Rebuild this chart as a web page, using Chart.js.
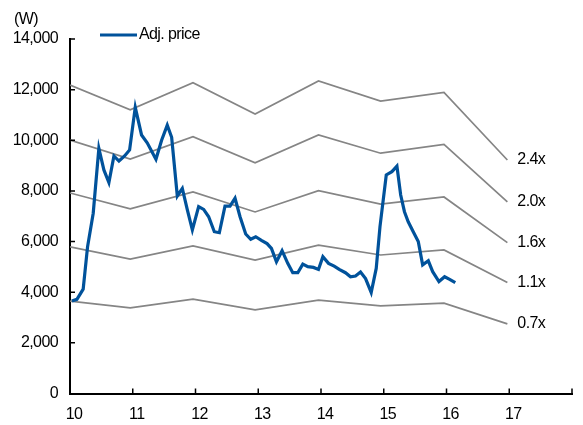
<!DOCTYPE html>
<html>
<head>
<meta charset="utf-8">
<script src="https://cdn.jsdelivr.net/npm/chart.js@4/dist/chart.umd.min.js"></script>
<style>
  html, body { margin: 0; padding: 0; background: #fff; }
  #wrap { width: 583px; height: 425px; position: relative; }
</style>
</head>
<body>
<div id="wrap"><canvas id="c" width="583" height="425"></canvas></div>
<script>
// ---- data ----
const unitLabel = '(W)';
const xTickLabels = ['10', '11', '12', '13', '14', '15', '16', '17'];
const bandYears = [10, 10.96, 11.96, 12.95, 13.96, 14.95, 15.96, 16.97];
const band24 = [12180, 11200, 12270, 11040, 12340, 11550, 11890, 9220];
const band20 = [10010, 9260, 10140, 9110, 10210, 9490, 9840, 7570];
const band16 = [7920, 7290, 7960, 7170, 8010, 7480, 7760, 5960];
const band11 = [5790, 5310, 5830, 5270, 5860, 5470, 5670, 4380];
const band07 = [3650, 3380, 3730, 3300, 3690, 3460, 3570, 2750];
const bandNames = ['2.4x', '2.0x', '1.6x', '1.1x', '0.7x'];
const priceName = 'Adj. price';
const priceX = [10.03, 10.11, 10.21, 10.28, 10.37, 10.46, 10.54, 10.62, 10.70, 10.78, 10.87, 10.95,
  11.04, 11.14, 11.23, 11.37, 11.46, 11.55, 11.62, 11.71, 11.79, 11.87, 11.95,
  12.05, 12.13, 12.21, 12.30, 12.38, 12.47, 12.55, 12.63, 12.71, 12.80, 12.88, 12.96,
  13.05, 13.14, 13.21, 13.29, 13.38, 13.47, 13.55, 13.63, 13.71, 13.79, 13.88, 13.96,
  14.03, 14.12, 14.21, 14.29, 14.39, 14.47, 14.55, 14.63, 14.71, 14.80, 14.88, 14.94,
  15.04, 15.13, 15.21, 15.27, 15.33, 15.39, 15.47, 15.55, 15.62, 15.71, 15.78, 15.88, 15.97,
  16.05, 16.14];
const priceY = [3650, 3720, 4120, 5800, 7120, 9680, 8830, 8330, 9380, 9180, 9380, 9620,
  11300, 10210, 9900, 9250, 10000, 10600, 10120, 7800, 8100, 7250, 6460,
  7380, 7270, 6980, 6390, 6350, 7400, 7400, 7710, 6980, 6300, 6090, 6190,
  6050, 5920, 5730, 5200, 5640, 5140, 4770, 4770, 5110, 5010, 4980, 4900,
  5400, 5140, 5030, 4900, 4770, 4610, 4640, 4800, 4540, 3990, 4940, 6590,
  8630, 8760, 8980, 7840, 7180, 6780, 6390, 6000, 5080, 5240, 4810, 4420, 4610,
  4510, 4380];

// ---- build ----
const BLUE = '#00529B';
const GRAY = '#858585';
const FONT = "'Liberation Sans', Arial, sans-serif";
const LS = '-0.6px';
const toPts = (xs, ys) => xs.map((x, i) => ({ x: x, y: ys[i] }));
const bands = [band24, band20, band16, band11, band07];
const datasets = [{
  label: priceName,
  data: toPts(priceX, priceY),
  borderColor: BLUE,
  backgroundColor: BLUE,
  borderWidth: 3.2,
  pointRadius: 0,
  tension: 0,
  order: 0
}];
bands.forEach((b, i) => datasets.push({
  label: bandNames[i],
  endLabel: bandNames[i],
  data: toPts(bandYears, b),
  borderColor: GRAY,
  borderWidth: 1.7,
  pointRadius: 0,
  tension: 0,
  order: 1
}));

const spacingPlugin = {
  id: 'spacing',
  beforeUpdate(chart) { chart.ctx.letterSpacing = LS; },
  beforeDraw(chart) { chart.ctx.letterSpacing = LS; }
};

const decoPlugin = {
  id: 'deco',
  afterDatasetsDraw(chart) {
    const ctx = chart.ctx;
    ctx.save();
    ctx.letterSpacing = LS;
    ctx.font = '16px ' + FONT;
    ctx.fillStyle = '#000';
    ctx.textBaseline = 'middle';
    ctx.textAlign = 'left';
    chart.data.datasets.forEach((ds, i) => {
      if (!ds.endLabel) return;
      const pts = chart.getDatasetMeta(i).data;
      const p = pts[pts.length - 1];
      ctx.fillText(ds.endLabel, p.x + 10, p.y);
    });
    // inward tick marks
    const xs = chart.scales.x, ys = chart.scales.y;
    ctx.strokeStyle = '#000';
    ctx.lineWidth = 1.5;
    ctx.beginPath();
    xs.ticks.forEach(t => {
      if (t.value === xs.min) return;
      const px = xs.getPixelForValue(t.value);
      ctx.moveTo(px, ys.bottom);
      ctx.lineTo(px, ys.bottom - 5);
    });
    ys.ticks.forEach(t => {
      if (t.value === ys.min) return;
      const py = ys.getPixelForValue(t.value);
      ctx.moveTo(xs.left, py);
      ctx.lineTo(xs.left + 5, py);
    });
    ctx.stroke();
    // unit label
    ctx.fillText(unitLabel, 14, 20);
    // legend
    const ds0 = chart.data.datasets[0];
    ctx.strokeStyle = ds0.borderColor;
    ctx.lineWidth = 3;
    ctx.beginPath();
    ctx.moveTo(100, 35);
    ctx.lineTo(137, 35);
    ctx.stroke();
    ctx.fillText(ds0.label, 139, 35);
    ctx.restore();
  }
};

new Chart(document.getElementById('c'), {
  type: 'line',
  data: { datasets: datasets },
  plugins: [spacingPlugin, decoPlugin],
  options: {
    responsive: false,
    animation: false,
    devicePixelRatio: 1,
    layout: { padding: { top: 39, right: 6, left: 0, bottom: 0 } },
    plugins: { legend: { display: false }, tooltip: { enabled: false } },
    scales: {
      x: {
        type: 'linear',
        min: 10,
        max: 18,
        afterFit(s) { s.height = 31.5; },
        ticks: {
          stepSize: 1,
          padding: 11,
          labelOffset: 4,
          color: '#000',
          font: { size: 16, family: FONT },
          maxRotation: 0,
          callback: (v) => xTickLabels[v - 10] || ''
        },
        grid: { display: false, drawTicks: false },
        border: { display: true, color: '#000', width: 2 }
      },
      y: {
        min: 0,
        max: 14000,
        afterFit(s) { s.width = 70; },
        ticks: {
          stepSize: 2000,
          padding: 12,
          color: '#000',
          font: { size: 16, family: FONT },
          callback: (v) => v.toLocaleString('en-US')
        },
        grid: { display: false, drawTicks: false },
        border: { display: true, color: '#000', width: 2 }
      }
    }
  }
});
</script>
</body>
</html>
